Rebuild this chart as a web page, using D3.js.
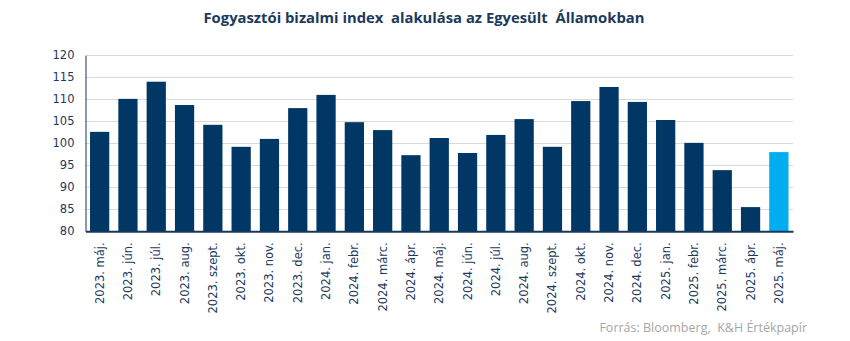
<!DOCTYPE html>
<html>
<head>
<meta charset="utf-8">
<script src="https://cdn.jsdelivr.net/npm/d3@7"></script>
<style>
  body { margin: 0; background: #fff; }
  svg { display: block; }
</style>
</head>
<body>
<svg id="chart" width="850" height="341"></svg>
<script>
// Monthly consumer confidence index, USA
const categories = [
  "2023. máj.", "2023. jún.", "2023. júl.", "2023. aug.", "2023. szept.", "2023. okt.",
  "2023. nov.", "2023. dec.", "2024. jan.", "2024. febr.", "2024. márc.", "2024. ápr.",
  "2024. máj.", "2024. jún.", "2024. júl.", "2024. aug.", "2024. szept.", "2024. okt.",
  "2024. nov.", "2024. dec.", "2025. jan.", "2025. febr.", "2025. márc.", "2025. ápr.",
  "2025. máj."
];
const values = [
  102.6, 110.1, 114.0, 108.7, 104.2, 99.2,
  101.0, 108.0, 111.0, 104.8, 103.0, 97.3,
  101.2, 97.8, 101.9, 105.5, 99.2, 109.6,
  112.8, 109.4, 105.3, 100.1, 93.9, 85.5,
  98.0
];
const yTicks = [80, 85, 90, 95, 100, 105, 110, 115, 120];

const svg = d3.select("#chart");
const W = 850;
const x0 = 85.5, x1 = W - 57;
const y0 = 231.3, y1 = 55.3;

const x = d3.scaleBand().domain(categories).range([x0, x1]).paddingInner(0.32).paddingOuter(0.16);
const y = d3.scaleLinear().domain([80, 120]).range([y0, y1]);

// title
svg.append("text")
  .attr("x", 424).attr("y", 23)
  .attr("text-anchor", "middle")
  .style("white-space", "pre")
  .attr("font-family", "'Open Sans', sans-serif")
  .attr("font-weight", "bold")
  .attr("font-size", 14.8)
  .attr("fill", "#1b3a5c")
  .text("Fogyasztói bizalmi index  alakulása az Egyesült  Államokban");

// gridlines
svg.append("g")
  .selectAll("line")
  .data(yTicks.filter(t => t !== 80))
  .join("line")
  .attr("x1", x0).attr("x2", x1)
  .attr("y1", d => Math.round(y(d)) + 0.5).attr("y2", d => Math.round(y(d)) + 0.5)
  .attr("stroke", "#d9d9d9").attr("stroke-width", 1);

// bars
svg.append("g")
  .selectAll("rect")
  .data(values)
  .join("rect")
  .attr("x", (d, i) => x(categories[i]))
  .attr("width", x.bandwidth())
  .attr("y", d => y(d))
  .attr("height", d => y(80) - y(d))
  .attr("fill", (d, i) => i === values.length - 1 ? "#00aeef" : "#003764");

// y axis
const yAxis = d3.axisLeft(y).tickValues(yTicks).tickSize(0).tickPadding(11);
const gy = svg.append("g").attr("transform", `translate(${x0},0)`).call(yAxis);
gy.select(".domain").attr("stroke", "#17375e").attr("stroke-width", 1);
gy.selectAll("text")
  .attr("font-family", "'DejaVu Sans', Verdana, sans-serif")
  .attr("font-size", 11.5)
  .attr("fill", "#1b3a5c");

// x axis
const xAxis = d3.axisBottom(x).tickSize(0).tickPadding(0);
const gx = svg.append("g").attr("transform", `translate(0,${y0})`).call(xAxis);
gx.select(".domain").attr("stroke", "#17375e").attr("stroke-width", 2);
gx.selectAll("text")
  .attr("font-family", "'DejaVu Sans', Verdana, sans-serif")
  .attr("font-size", 11.5)
  .attr("fill", "#1b3a5c")
  .attr("text-anchor", "end")
  .attr("dy", "0.35em")
  .attr("transform", "translate(0,11) rotate(-90)")
  .attr("x", 0).attr("y", 0);

// source note
svg.append("text")
  .attr("x", 807).attr("y", 332)
  .attr("text-anchor", "end")
  .attr("font-family", "'Open Sans', sans-serif")
  .attr("font-size", 12.5)
  .attr("fill", "#a6a6a6")
  .style("white-space", "pre")
  .text("Forrás: Bloomberg,  K&H Értékpapír");
</script>
</body>
</html>
